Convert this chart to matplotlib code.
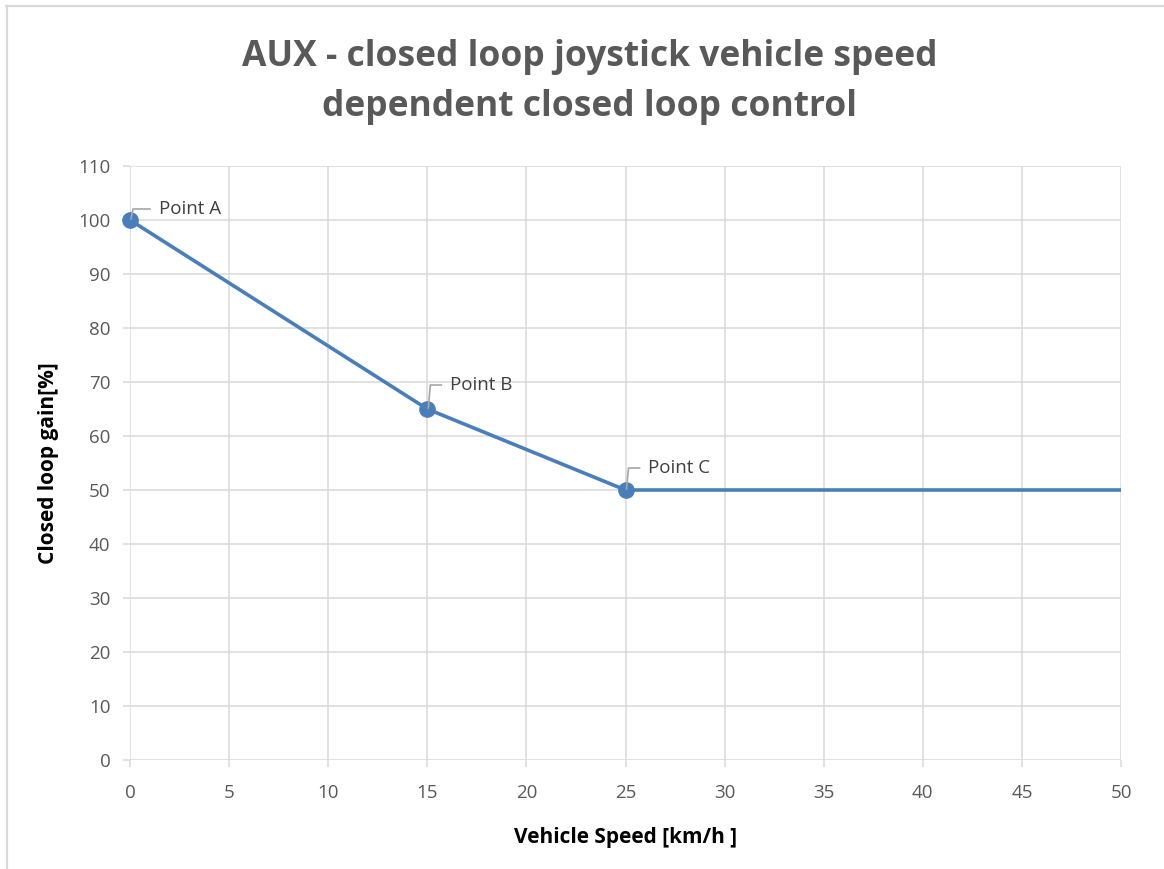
import matplotlib
matplotlib.use("Agg")
import matplotlib.pyplot as plt
from matplotlib.lines import Line2D
from matplotlib.transforms import IdentityTransform

# Closed loop gain vs vehicle speed
speed = [0, 15, 25, 50]
gain = [100, 65, 50, 50]
marked_speed = [0, 15, 25]
marked_gain = [100, 65, 50]
point_labels = ["Point A", "Point B", "Point C"]

x_ticks = list(range(0, 55, 5))
y_ticks = list(range(0, 120, 10))

FONT = "Open Sans"
plt.rcParams["font.family"] = [FONT, "DejaVu Sans"]

W, H, DPI = 1164, 869, 100
fig = plt.figure(figsize=(W / DPI, H / DPI), dpi=DPI)
fig.patch.set_facecolor("white")

left, right, top, bottom = 130, 1121, 166, 760
ax = fig.add_axes([left / W, 1 - bottom / H, (right - left) / W, (bottom - top) / H])

line_color = "#4A7EBB"
grid_color = "#D9D9D9"
text_gray = "#595959"

ax.plot(speed, gain, color=line_color, lw=2.6, solid_capstyle="butt", zorder=3, clip_on=False)
ax.plot(marked_speed, marked_gain, "o", color=line_color, ms=11, zorder=4, clip_on=False)

ax.set_xlim(0, 50)
ax.set_ylim(0, 110)
ax.set_xticks(x_ticks)
ax.set_yticks(y_ticks)
ax.grid(True, color=grid_color, lw=1.1, zorder=0)
ax.set_axisbelow(True)
for s in ax.spines.values():
    s.set_visible(False)
ax.tick_params(axis="both", colors=grid_color, length=5, width=1.1,
               labelcolor=text_gray, labelsize=13.5)
ax.tick_params(axis="x", pad=12)
ax.tick_params(axis="y", pad=9)

ax.set_xlabel("Vehicle Speed [km/h ]", fontsize=15, fontweight="bold", color="black", labelpad=18)
ax.set_ylabel("Closed loop gain[%]", fontsize=15, fontweight="bold", color="black", labelpad=14)

fig.text(590 / W, 1 - 82 / H,
         "AUX - closed loop joystick vehicle speed\ndependent closed loop control",
         ha="center", va="center", fontsize=25.5, fontweight="bold", color=text_gray,
         linespacing=1.55)

# Data labels with leader lines (pixel offsets: rise of leader, gap to text)
label_rise = [11, 24, 22]
label_gap = [29, 23, 23]
fig.canvas.draw()
for xv, yv, lab, rise, gap in zip(marked_speed, marked_gain, point_labels, label_rise, label_gap):
    px, py = ax.transData.transform((xv, yv))
    fig.add_artist(Line2D([px + 1, px + 3, px + gap - 9], [py + 1, py + rise, py + rise],
                          transform=IdentityTransform(), color="#A6A6A6", lw=1.2, zorder=5))
    fig.text((px + gap) / W, (py + rise) / H, lab, ha="left", va="center",
             fontsize=13.5, color="#404040")

# Chart frame
fig.add_artist(Line2D([6 / W, 1], [1 - 6 / H, 1 - 6 / H], transform=fig.transFigure,
                      color=grid_color, lw=1.6))
fig.add_artist(Line2D([7 / W, 7 / W], [0, 1 - 6 / H], transform=fig.transFigure,
                      color=grid_color, lw=1.6))

fig.savefig("out.png", dpi=DPI, facecolor="white")
